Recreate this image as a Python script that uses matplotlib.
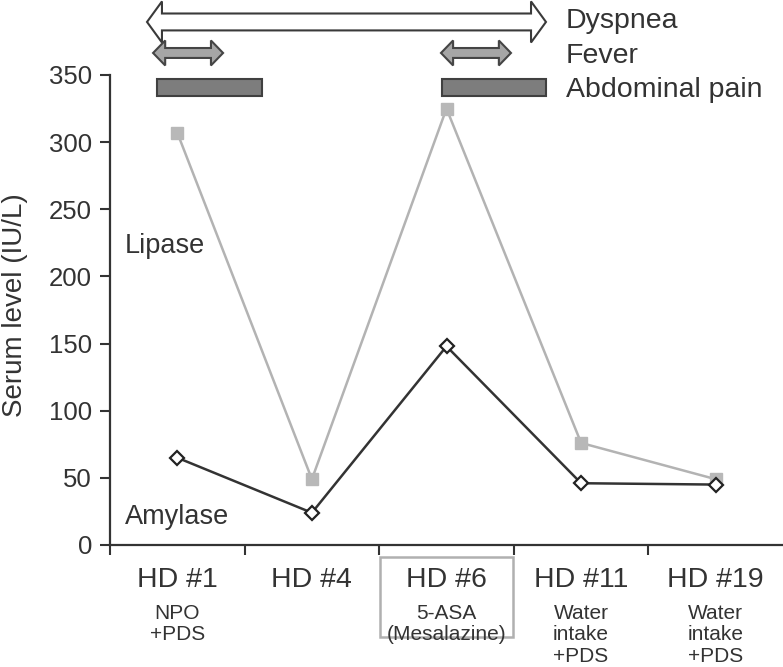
import matplotlib
matplotlib.use("Agg")
import matplotlib.pyplot as plt
from matplotlib.patches import Polygon, Rectangle

plt.rcParams['font.family'] = ['Liberation Sans', 'DejaVu Sans']

# data
days = ["HD #1", "HD #4", "HD #6", "HD #11", "HD #19"]
treatments = ["NPO\n+PDS", "", "5-ASA\n(Mesalazine)", "Water\nintake\n+PDS", "Water\nintake\n+PDS"]
lipase = [307, 49, 325, 76, 49]
amylase = [65, 24, 148, 46, 45]

# symptom periods (in day-slot units)
dyspnea = [(-0.225, 2.739)]
fever = [(-0.18, 0.34), (1.959, 2.479)]
abdominal_pain = [(-0.151, 0.629), (1.967, 2.739)]

TXT = '#333333'
x = list(range(len(days)))

fig = plt.figure(figsize=(7.83, 6.67), dpi=100)
ax = fig.add_axes([110/783, 122/667, 673/783, 470/667])

ax.plot(x, lipase, color='#b3b3b3', lw=1.8, marker='s', ms=8.5,
        mfc='#b8b8b8', mec='#b8b8b8', zorder=3)
ax.plot(x, amylase, color='#333333', lw=1.8, marker='D', ms=7,
        mfc='white', mec='#222222', mew=1.6, zorder=4)

ax.set_xlim(-0.5, 4.5)
ax.set_ylim(0, 350)
ax.set_yticks(range(0, 351, 50))
ax.tick_params(axis='y', labelsize=18.5, colors=TXT, length=7, width=1.5, pad=6)
ax.set_xticks([i - 0.5 for i in x])
ax.set_xticklabels([])
ax.tick_params(axis='x', which='major', length=7, width=1.5, color=TXT)
ax.set_xticks(x, days, minor=True)
ax.tick_params(axis='x', which='minor', length=0, pad=16, labelsize=20.5, labelcolor=TXT)

for s in ['top', 'right']:
    ax.spines[s].set_visible(False)
for s in ['left', 'bottom']:
    ax.spines[s].set_linewidth(1.6)
    ax.spines[s].set_color(TXT)

ax.text(-0.141, 0.51, "Serum level (IU/L)", transform=ax.transAxes, rotation=90,
        ha='center', va='center', fontsize=20, color=TXT)

for xi, t in zip(x, treatments):
    if t:
        ax.text(xi, -44.0, t, ha='center', va='top', fontsize=15, color=TXT,
                linespacing=1.15, clip_on=False)

ax.add_patch(Rectangle((1.506, -68.5), 0.988, 59.6, fill=False, ec='#b0b0b0',
                       lw=1.8, clip_on=False))

ax.text(-0.389, 217.4, "Lipase", fontsize=19.5, color=TXT, va='baseline')
ax.text(-0.389, 15.8, "Amylase", fontsize=19.5, color=TXT, va='baseline')


def double_arrow(x0, x1, yc, body, head, hlen, fc, ec):
    verts = [(x0, yc), (x0 + hlen, yc + head), (x0 + hlen, yc + body),
             (x1 - hlen, yc + body), (x1 - hlen, yc + head), (x1, yc),
             (x1 - hlen, yc - head), (x1 - hlen, yc - body),
             (x0 + hlen, yc - body), (x0 + hlen, yc - head)]
    ax.add_patch(Polygon(verts, closed=True, fc=fc, ec=ec, lw=1.5,
                         joinstyle='miter', clip_on=False))


for a, b in dyspnea:
    double_arrow(a, b, 389.5, 6.3, 15.3, 0.111, 'white', '#3a3a3a')
for a, b in fever:
    double_arrow(a, b, 366.4, 3.7, 9.3, 0.09, '#a6a6a6', '#454545')
for a, b in abdominal_pain:
    ax.add_patch(Rectangle((a, 334.3), b - a, 12.7, fc='#7d7d7d', ec='#404040',
                           lw=1.5, clip_on=False))

ax.text(2.888, 385, "Dyspnea", fontsize=20.5, color=TXT, va='baseline')
ax.text(2.888, 359, "Fever", fontsize=20.5, color=TXT, va='baseline')
ax.text(2.888, 333.6, "Abdominal pain", fontsize=20.5, color=TXT, va='baseline')

fig.savefig("out.png", dpi=100)
